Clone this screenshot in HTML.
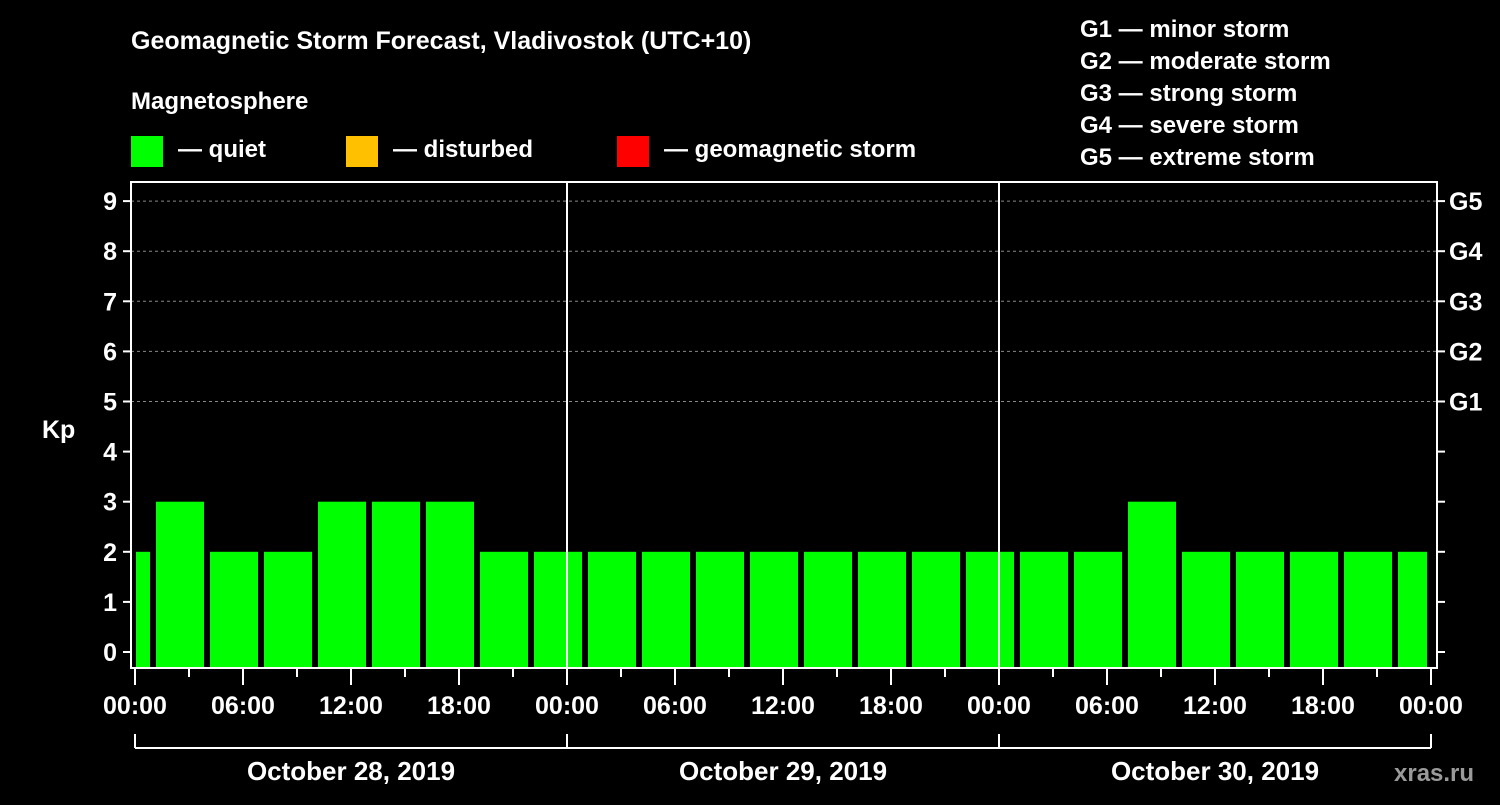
<!DOCTYPE html>
<html><head><meta charset="utf-8"><style>
body{margin:0;background:#000;width:1500px;height:800px;overflow:hidden}
svg text{font-family:"Liberation Sans",Arial,sans-serif;font-weight:bold;fill:#fff}
</style></head><body>
<svg id="c" width="1500" height="800">
<text x="131" y="49" font-size="25">Geomagnetic Storm Forecast, Vladivostok (UTC+10)</text>
<text x="131" y="109" font-size="24">Magnetosphere</text>
<rect x="131" y="136" width="32" height="31" fill="#00ff00"/>
<text x="178" y="157" font-size="24">— quiet</text>
<rect x="346" y="136" width="32" height="31" fill="#ffc000"/>
<text x="393" y="157" font-size="24">— disturbed</text>
<rect x="617" y="136" width="32" height="31" fill="#ff0000"/>
<text x="664" y="157" font-size="24">— geomagnetic storm</text>
<g font-size="24">
<text x="1080" y="37">G1 — minor storm</text>
<text x="1080" y="69">G2 — moderate storm</text>
<text x="1080" y="101">G3 — strong storm</text>
<text x="1080" y="133">G4 — severe storm</text>
<text x="1080" y="165">G5 — extreme storm</text>
</g>
<text x="42" y="438" font-size="25">Kp</text>
<text x="1394" y="781" font-size="24" fill="#aaa" style="fill:#9a9a9a">xras.ru</text>
<g id="g"></g>
</svg>
<script>
const values=[2,3,2,2,3,3,3,2,2,2,2,2,2,2,2,2,2,2,2,3,2,2,2,2,2];
const yTicks=[0,1,2,3,4,5,6,7,8,9];
const gLabels=["G1","G2","G3","G4","G5"];
const hourLabels=["00:00","06:00","12:00","18:00"];
const dayLabels=["October 28, 2019","October 29, 2019","October 30, 2019"];
const NS="http://www.w3.org/2000/svg";
const g=document.getElementById('g');
const X0=135,PX_H=18,L=131,R=1437,T=182,B=668;
const x=h=>X0+h*PX_H;
const y=v=>652-v*50.1;
function el(t,a,txt){const e=document.createElementNS(NS,t);for(const k in a)e.setAttribute(k,a[k]);if(txt!=null)e.textContent=txt;g.appendChild(e);return e;}
// grid
for(let v=5;v<=9;v++){const e=el('line',{x1:L,x2:R,y1:y(v),y2:y(v),stroke:'#888','stroke-dasharray':'3,3'});

}
// bars
values.forEach((v,i)=>{let a=x(i*3-2)+3,b=x(i*3+1)-3;a=Math.max(a,136);b=Math.min(b,1427);
const e=el('rect',{x:a,y:y(v),width:b-a,height:B-y(v),fill:'#00ff00'});

});
// day separators
[1,2].forEach(d=>{const e=el('line',{x1:x(d*24),x2:x(d*24),y1:T,y2:B,stroke:'#fff','stroke-width':2});

});
// frame
const f=el('rect',{x:L,y:T,width:R-L,height:B-T,fill:'none',stroke:'#fff','stroke-width':2});


// y ticks
yTicks.forEach(v=>{el('line',{x1:L-8,x2:L,y1:y(v),y2:y(v),stroke:'#fff','stroke-width':2});
el('line',{x1:R,x2:R+8,y1:y(v),y2:y(v),stroke:'#fff','stroke-width':2});
const t=el('text',{x:L-14,y:y(v)+9,'font-size':25,'text-anchor':'end'},v);

});
gLabels.forEach((s,i)=>{const t=el('text',{x:1449,y:y(i+5)+9,'font-size':25},s);

});
// x ticks
for(let h=0;h<=72;h+=3){const major=h%6===0;el('line',{x1:x(h),x2:x(h),y1:B,y2:B+(major?17:9),stroke:'#fff','stroke-width':2});}
for(let h=0;h<=72;h+=6){const t=el('text',{x:x(h),y:714,'font-size':25,'text-anchor':'middle'},hourLabels[(h/6)%4]);

}
// day bracket
el('line',{x1:x(0),x2:x(72),y1:748,y2:748,stroke:'#fff','stroke-width':2});
for(let d=0;d<=3;d++)el('line',{x1:x(d*24),x2:x(d*24),y1:734,y2:748,stroke:'#fff','stroke-width':2});
dayLabels.forEach((s,d)=>{const t=el('text',{x:x(d*24+12),y:780,'font-size':26,'text-anchor':'middle'},s);

});
</script>
</body></html>
